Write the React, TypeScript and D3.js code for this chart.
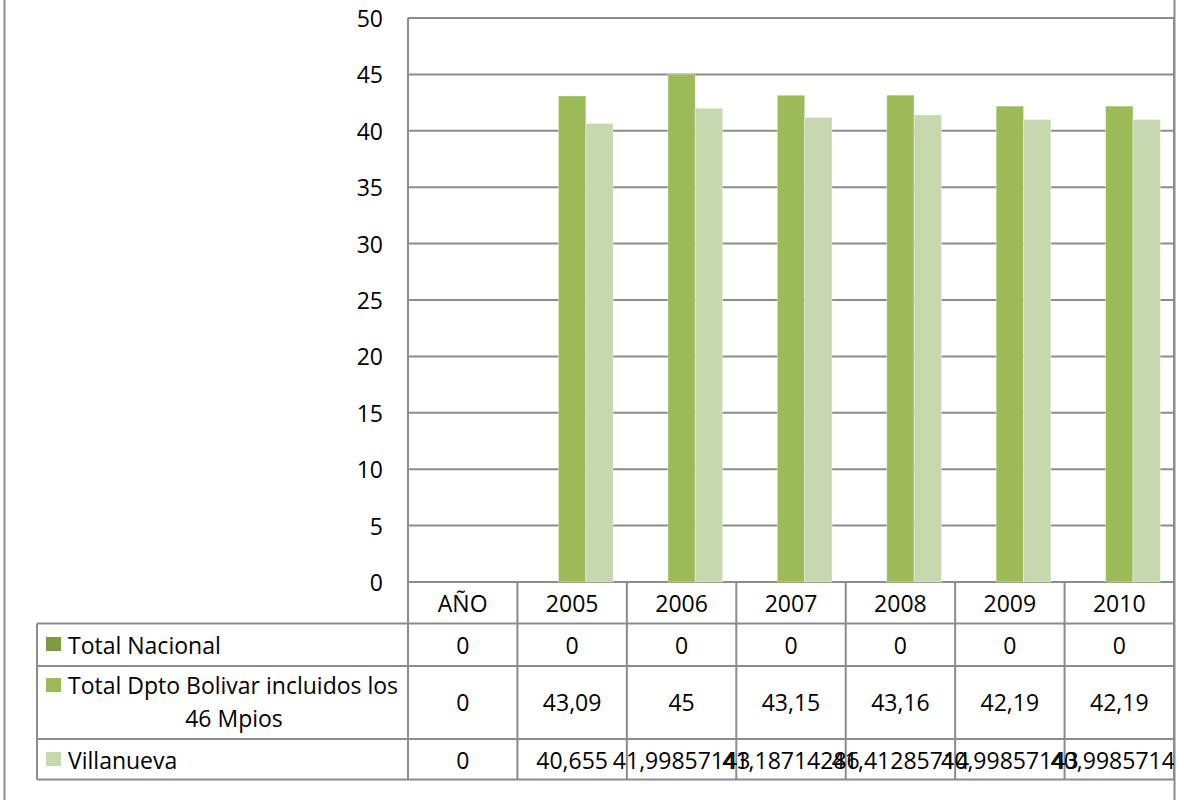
import React from "react";
import * as d3 from "d3";

const categories = ["AÑO", "2005", "2006", "2007", "2008", "2009", "2010"];
const seriesNames = ["Total Nacional", "Total Dpto Bolivar incluidos los 46 Mpios", "Villanueva"];
const totalNacional = [0, 0, 0, 0, 0, 0, 0];
const totalDpto = [0, 43.09, 45, 43.15, 43.16, 42.19, 42.19];
const villanueva = [0, 40.655, 41.99857143, 41.18714286, 41.41285714, 40.99857143, 40.99857143];
const nacionalLabels = ["0", "0", "0", "0", "0", "0", "0"];
const dptoLabels = ["0", "43,09", "45", "43,15", "43,16", "42,19", "42,19"];
const villanuevaLabels = ["0", "40,655", "41,99857143", "41,18714286", "41,41285714", "40,99857143", "40,99857143"];
const yTicks = [0, 5, 10, 15, 20, 25, 30, 35, 40, 45, 50];
const colors = ["#7f9a45", "#9bbb59", "#c7d7ae"];

const W = 1177;
const H = 800;
const plotL = 408;
const plotR = 1174;
const plotT = 18;
const plotB = 582;
const FONT = "'Open Sans', Lato, 'Liberation Sans', sans-serif";
const FS = 23;
const GRID = "#8c8c8c";

export default function App() {
  const y = d3.scaleLinear().domain([0, 50]).range([plotB, plotT]);
  const x = d3.scaleBand<string>().domain(categories).range([plotL, plotR]).paddingInner(0).paddingOuter(0);
  const bw = x.bandwidth();
  const inner = d3.scaleBand<number>().domain([0, 1, 2]).range([bw / 8, bw - bw / 8]).padding(0);
  const series = [totalNacional, totalDpto, villanueva];

  const rowLines = [623.5, 666, 739, 779.5];
  const legendL = 37;
  const tableRows = [
    { labels: nacionalLabels, cy: 644.5 },
    { labels: dptoLabels, cy: 702 },
    { labels: villanuevaLabels, cy: 760 },
  ];

  return (
    <svg width={W} height={H} style={{ position: "absolute", left: 0, top: 0, background: "#fff" }} fontFamily={FONT}>
      <defs>
        <clipPath id="chartclip">
          <rect x={0} y={0} width={plotR} height={H} />
        </clipPath>
      </defs>
      <rect x={0} y={0} width={W} height={H} fill="#fff" />
      {/* outer chart border */}
      <line x1={4.5} x2={4.5} y1={0} y2={H} stroke={GRID} strokeWidth={2} />
      <line x1={plotR + 0.5} x2={plotR + 0.5} y1={0} y2={H} stroke={GRID} strokeWidth={2} />

      {/* gridlines */}
      {yTicks.map((t) => (
        <line key={"g" + t} x1={plotL} x2={plotR} y1={y(t)} y2={y(t)} stroke={GRID} strokeWidth={2} />
      ))}
      {/* y labels */}
      {yTicks.map((t) => (
        <text key={"yl" + t} x={383} y={y(t)} textAnchor="end" dominantBaseline="central" fontSize={FS} fill="#000">
          {t}
        </text>
      ))}

      {/* bars */}
      {categories.map((c, i) => (
        <g key={"bars" + c} transform={`translate(${x(c)},0)`}>
          {series.map((s, si) =>
            s[i] > 0 ? (
              <rect
                key={si}
                x={inner(si)}
                y={y(s[i])}
                width={inner.bandwidth()}
                height={plotB - y(s[i])}
                fill={colors[si]}
                stroke="#fff"
                strokeOpacity={0.35}
                strokeWidth={1}
              />
            ) : null
          )}
        </g>
      ))}

      {/* data table lines */}
      {rowLines.map((ry, i) => (
        <line key={"r" + i} x1={legendL} x2={plotR} y1={ry} y2={ry} stroke={GRID} strokeWidth={2} />
      ))}
      <line x1={legendL} x2={legendL} y1={rowLines[0]} y2={rowLines[3]} stroke={GRID} strokeWidth={2} />
      <line x1={plotL} x2={plotL} y1={plotT} y2={rowLines[3]} stroke={GRID} strokeWidth={2} />
      {categories.map((c, i) =>
        i > 0 ? (
          <line key={"vt" + c} x1={x(c)} x2={x(c)} y1={plotB} y2={rowLines[3]} stroke={GRID} strokeWidth={2} />
        ) : null
      )}
      <line x1={plotR} x2={plotR} y1={plotT} y2={rowLines[3]} stroke={GRID} strokeWidth={2} />

      {/* header labels */}
      {categories.map((c) => (
        <text key={"h" + c} x={(x(c) as number) + bw / 2} y={603} textAnchor="middle" dominantBaseline="central" fontSize={FS}>
          {c}
        </text>
      ))}

      {/* values */}
      <g clipPath="url(#chartclip)">
        {tableRows.map((r, ri) =>
          categories.map((c, i) => (
            <text key={"t" + ri + c} x={(x(c) as number) + bw / 2} y={r.cy} textAnchor="middle" dominantBaseline="central" fontSize={FS}>
              {r.labels[i]}
            </text>
          ))
        )}
      </g>

      {/* legend keys & names */}
      <rect x={46} y={637} width={15} height={14} fill={colors[0]} />
      <text x={68} y={644.5} dominantBaseline="central" fontSize={FS}>{seriesNames[0]}</text>
      <rect x={46} y={678} width={15} height={14} fill={colors[1]} />
      <text x={68} y={685} dominantBaseline="central" fontSize={FS}>Total Dpto Bolivar incluidos los</text>
      <text x={234} y={718} textAnchor="middle" dominantBaseline="central" fontSize={FS}>46 Mpios</text>
      <rect x={46} y={752} width={15} height={14} fill={colors[2]} />
      <text x={68} y={759.5} dominantBaseline="central" fontSize={FS}>{seriesNames[2]}</text>
    </svg>
  );
}
